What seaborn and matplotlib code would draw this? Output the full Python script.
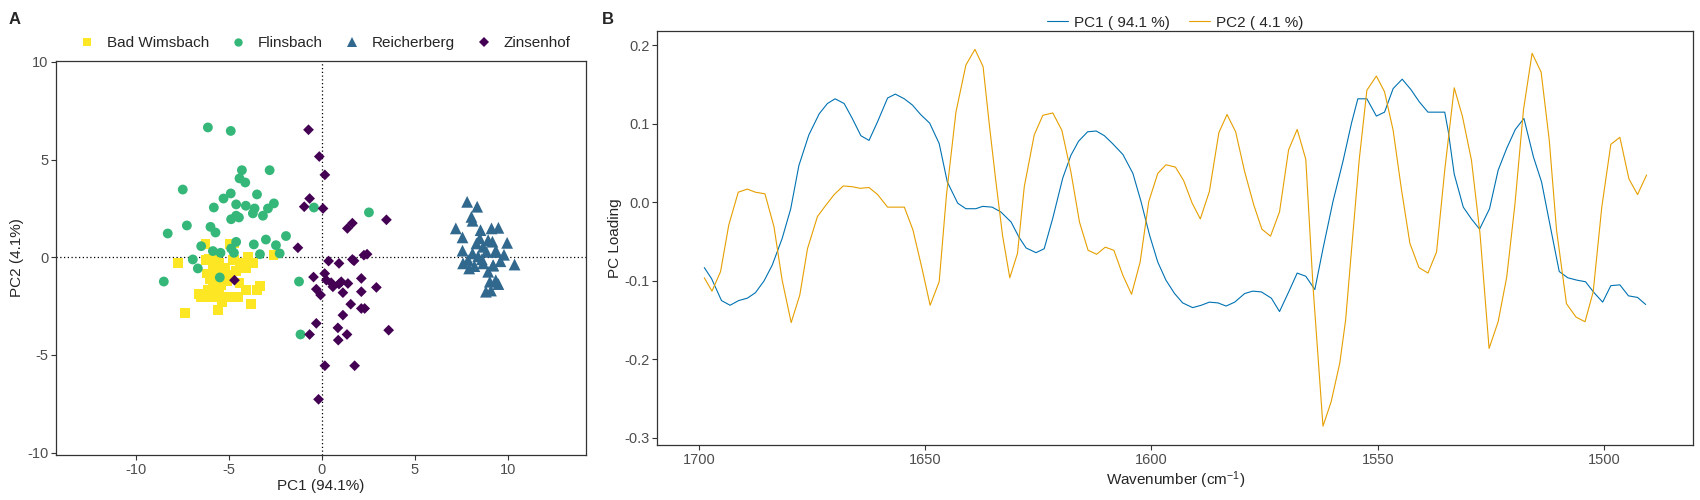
import numpy as np
import pandas as pd
import seaborn as sns
import matplotlib.pyplot as plt

sns.set_theme(style="white")
plt.rcParams['font.family'] = ['Liberation Sans', 'DejaVu Sans']
plt.rcParams['axes.unicode_minus'] = False
plt.rcParams['mathtext.default'] = 'regular'

# ---- panel A: PCA scores per site ----
bad_pc1 = [-6.26, -4.97, -4.70, -7.75, -6.05, -5.69, -5.51, -5.87, -4.79, -4.43, -3.98, -3.71, -4.07,
           -2.60, -6.19, -4.97, -5.33, -4.43, -5.87, -5.42, -6.14, -6.59, -6.50, -5.87, -5.42, -4.97,
           -4.52, -4.07, -3.48, -3.32, -5.37, -5.96, -3.80, -5.60, -7.38, -5.69, -5.51, -6.22, -4.70,
           -4.25, -5.20, -5.10, -6.00, -5.65, -4.60]
bad_pc2 = [0.68, 0.68, 0.71, -0.31, -0.06, -0.11, -0.31, -0.48, -0.14, -0.31, 0.03, -0.28, -0.57,
           0.11, -0.83, -0.91, -1.00, -1.30, -1.34, -1.42, -1.68, -1.88, -2.02, -1.85, -2.02, -2.05,
           -2.02, -1.68, -1.68, -1.47, -2.28, -2.05, -2.41, -2.70, -2.84, -1.51, -1.68, -0.14, -0.14,
           -0.31, -0.55, -1.20, -1.10, -0.80, -0.70]

flins_pc1 = [-6.13, -4.90, -4.30, -2.81, -4.43, -4.12, -7.48, -3.49, -4.90, -5.29, -5.81, -4.61, -4.09,
             -3.62, -2.58, -2.90, -3.71, -3.17, -4.61, -4.88, -4.46, -7.26, -5.99, -5.72, -8.29, -1.93,
             -3.01, -4.61, -6.49, -3.66, -2.47, -4.88, -5.86, -5.45, -4.73, -3.33, -2.27, -6.94, -6.67,
             -5.49, -8.50, -1.23, -0.43, 2.53, -1.15]
flins_pc2 = [6.65, 6.47, 4.46, 4.46, 4.04, 3.83, 3.47, 3.22, 3.27, 3.01, 2.55, 2.71, 2.64,
             2.50, 2.76, 2.50, 2.25, 2.13, 2.13, 1.95, 2.04, 1.63, 1.56, 1.27, 1.22, 1.09,
             0.91, 0.79, 0.57, 0.66, 0.62, 0.45, 0.32, 0.23, 0.23, 0.16, 0.20, -0.11, -0.57,
             -1.03, -1.24, -1.24, 2.55, 2.30, -3.95]

reich_pc1 = [7.81, 8.35, 8.04, 8.10, 7.20, 9.12, 8.53, 7.56, 8.49, 8.31, 8.94, 9.17, 7.56, 8.67,
             8.85, 9.39, 8.10, 7.86, 7.59, 8.67, 9.21, 7.92, 8.94, 9.03, 9.35, 8.82, 10.36, 9.96,
             9.49, 9.20, 9.49, 9.09, 9.79, 9.32, 8.40, 8.60, 8.20, 9.60]
reich_pc2 = [2.84, 2.59, 2.07, 1.87, 1.48, 1.48, 1.39, 1.02, 0.97, 0.71, 0.88, 0.80, 0.34, 0.54,
             0.28, 0.28, 0.20, -0.14, -0.31, -0.31, -0.40, -0.57, -0.74, -1.25, -1.17, -1.76, -0.37, 0.74,
             1.51, -0.43, -1.37, -1.70, 0.13, 0.29, 0.05, -0.10, -0.45, -0.20]

zins_pc1 = [-0.72, -0.14, 0.16, -0.66, -0.95, 0.06, 1.64, 1.37, 3.47, -1.29, 0.36, 0.92, 1.64, 1.73,
            2.26, 2.43, -0.45, 0.15, 0.24, 0.50, 0.59, 0.92, 1.04, 1.40, 2.12, 2.93, -0.30, -0.07,
            1.13, 2.12, 1.55, 1.13, 2.12, 2.30, -0.30, 0.86, 1.35, -0.66, 0.88, 3.59, 0.16, 1.76,
            -0.18, -4.70]
zins_pc2 = [6.53, 5.16, 4.22, 3.01, 2.59, 2.50, 1.75, 1.48, 1.92, 0.49, -0.19, -0.31, -0.11, -0.18,
            0.11, 0.16, -1.01, -0.83, -1.17, -1.30, -1.51, -1.37, -1.25, -1.34, -1.08, -1.54, -1.63, -1.93,
            -1.81, -1.76, -2.40, -2.96, -2.62, -2.62, -3.38, -3.61, -3.95, -3.95, -4.24, -3.73, -5.55, -5.55,
            -7.27, -1.17]

sites = ["Bad Wimsbach", "Flinsbach", "Reicherberg", "Zinsenhof"]
site_colors = ["#FDE725", "#35B779", "#31688E", "#440154"]
site_markers = ["s", "o", "^", "D"]
site_sizes = [50, 50, 72, 30]

# ---- panel B: PC loadings ----
pc1_wn = [1698.8, 1697.2, 1695.0, 1693.1, 1691.2, 1689.3, 1687.5, 1685.6, 1683.8, 1681.6, 1679.7,
          1677.9, 1675.7, 1673.4, 1671.6, 1669.9, 1667.9, 1666.1, 1664.2, 1662.4, 1660.5, 1658.3,
          1656.6, 1654.6, 1652.8, 1651.0, 1649.0, 1646.9, 1645.1, 1642.8, 1641.0, 1638.8, 1637.3,
          1635.2, 1633.3, 1631.0, 1629.3, 1627.7, 1625.5, 1623.7, 1621.8, 1619.6, 1617.8, 1616.1,
          1614.1, 1612.2, 1610.4, 1608.6, 1606.3, 1604.1, 1602.3, 1600.4, 1598.6, 1596.8, 1594.9,
          1593.1, 1590.9, 1589.0, 1587.2, 1585.3, 1583.5, 1581.6, 1579.4, 1577.6, 1575.7, 1573.5,
          1571.7, 1569.6, 1567.8, 1565.9, 1563.9, 1562.1, 1559.9, 1557.7, 1555.8, 1554.4, 1552.4,
          1550.3, 1548.5, 1546.6, 1544.6, 1542.7, 1540.8, 1538.9, 1535.2, 1534.4, 1533.1, 1531.1,
          1529.3, 1527.5, 1525.3, 1523.4, 1521.5, 1519.6, 1517.7, 1515.6, 1513.8, 1512.0, 1509.9,
          1508.0, 1506.0, 1504.1, 1502.2, 1500.3, 1498.5, 1496.5, 1494.6, 1492.6, 1490.8]
pc1_load = [-0.083, -0.097, -0.125, -0.131, -0.125, -0.122, -0.115, -0.100, -0.080, -0.046, -0.008,
            0.047, 0.086, 0.113, 0.126, 0.132, 0.126, 0.107, 0.085, 0.079, 0.103, 0.133,
            0.138, 0.132, 0.124, 0.112, 0.101, 0.075, 0.026, -0.001, -0.008, -0.008, -0.005,
            -0.006, -0.012, -0.025, -0.044, -0.058, -0.064, -0.059, -0.020, 0.031, 0.060, 0.078,
            0.090, 0.091, 0.085, 0.075, 0.061, 0.037, 0.001, -0.042, -0.076, -0.099, -0.116,
            -0.128, -0.134, -0.131, -0.127, -0.128, -0.132, -0.127, -0.116, -0.113, -0.114, -0.122,
            -0.139, -0.113, -0.090, -0.094, -0.111, -0.059, 0.001, 0.052, 0.101, 0.132, 0.132,
            0.110, 0.115, 0.145, 0.157, 0.144, 0.128, 0.115, 0.115, 0.090, 0.036, -0.006,
            -0.021, -0.034, -0.008, 0.041, 0.069, 0.093, 0.107, 0.058, 0.026, -0.027, -0.088,
            -0.096, -0.099, -0.101, -0.115, -0.127, -0.106, -0.105, -0.119, -0.121, -0.130]

pc2_wn = [1698.8, 1697.1, 1695.2, 1693.4, 1691.3, 1689.3, 1687.5, 1685.4, 1683.4, 1681.6, 1679.6,
          1677.7, 1676.0, 1673.8, 1672.0, 1670.1, 1668.1, 1666.1, 1664.4, 1662.4, 1660.5, 1658.3,
          1654.6, 1652.7, 1650.7, 1648.9, 1646.9, 1645.3, 1643.2, 1641.0, 1639.0, 1637.2, 1635.8,
          1634.4, 1632.9, 1631.3, 1629.6, 1628.1, 1625.9, 1624.0, 1621.8, 1619.8, 1617.8, 1615.9,
          1614.0, 1612.1, 1610.2, 1608.3, 1606.3, 1604.4, 1602.5, 1600.6, 1598.6, 1596.8, 1594.7,
          1592.9, 1591.0, 1589.2, 1587.2, 1585.1, 1583.3, 1581.4, 1579.4, 1577.4, 1575.6, 1573.7,
          1571.7, 1569.7, 1567.8, 1565.9, 1564.3, 1562.1, 1560.3, 1558.4, 1557.1, 1555.8, 1554.1,
          1552.4, 1550.3, 1548.5, 1546.6, 1544.8, 1542.9, 1540.9, 1538.9, 1537.0, 1535.2, 1533.1,
          1531.3, 1529.3, 1527.4, 1525.4, 1523.4, 1521.5, 1519.7, 1517.8, 1515.9, 1513.9, 1512.1,
          1510.5, 1508.3, 1506.2, 1504.2, 1502.4, 1500.5, 1498.5, 1496.5, 1494.5, 1492.6, 1490.6]
pc2_load = [-0.096, -0.113, -0.088, -0.029, 0.013, 0.017, 0.013, 0.011, -0.031, -0.099, -0.153,
            -0.118, -0.059, -0.018, -0.004, 0.010, 0.021, 0.020, 0.018, 0.019, 0.010, -0.006,
            -0.006, -0.035, -0.084, -0.131, -0.101, 0.009, 0.115, 0.175, 0.195, 0.173, 0.098,
            0.028, -0.042, -0.096, -0.065, 0.020, 0.086, 0.111, 0.114, 0.092, 0.039, -0.025,
            -0.061, -0.066, -0.057, -0.061, -0.093, -0.117, -0.076, 0.001, 0.037, 0.048, 0.045,
            0.028, -0.001, -0.021, 0.014, 0.089, 0.112, 0.090, 0.039, -0.003, -0.034, -0.043,
            -0.012, 0.067, 0.093, 0.055, -0.107, -0.285, -0.254, -0.205, -0.150, -0.061, 0.054,
            0.143, 0.161, 0.141, 0.092, 0.018, -0.052, -0.083, -0.090, -0.063, 0.041, 0.146,
            0.110, 0.054, -0.040, -0.186, -0.152, -0.095, -0.003, 0.118, 0.190, 0.166, 0.079,
            -0.035, -0.129, -0.146, -0.152, -0.114, -0.006, 0.074, 0.083, 0.030, 0.010, 0.035]

pc_names = ["PC1 ( 94.1 %)", "PC2 ( 4.1 %)"]
pc_colors = ["#0072B2", "#E69F00"]

scores = pd.concat([
    pd.DataFrame({"PC1": bad_pc1, "PC2": bad_pc2, "site": sites[0]}),
    pd.DataFrame({"PC1": flins_pc1, "PC2": flins_pc2, "site": sites[1]}),
    pd.DataFrame({"PC1": reich_pc1, "PC2": reich_pc2, "site": sites[2]}),
    pd.DataFrame({"PC1": zins_pc1, "PC2": zins_pc2, "site": sites[3]}),
], ignore_index=True)

loadings = pd.concat([
    pd.DataFrame({"wn": pc1_wn, "loading": pc1_load, "pc": pc_names[0]}),
    pd.DataFrame({"wn": pc2_wn, "loading": pc2_load, "pc": pc_names[1]}),
], ignore_index=True)

edge = "#333333"
tick_col = "#4D4D4D"

fig = plt.figure(figsize=(17, 5), dpi=100)
ax1 = fig.add_axes([0.0329, 0.09, 0.3118, 0.788])
ax2 = fig.add_axes([0.3866, 0.11, 0.6094, 0.8274])

# panel A
ax1.axhline(0, color="black", ls=(0, (1, 2)), lw=0.9, zorder=0)
ax1.axvline(0, color="black", ls=(0, (1, 2)), lw=0.9, zorder=0)
sns.scatterplot(data=scores, x="PC1", y="PC2", hue="site", style="site", size="site",
                hue_order=sites, style_order=sites, size_order=sites,
                palette=dict(zip(sites, site_colors)),
                markers=dict(zip(sites, site_markers)),
                sizes=dict(zip(sites, site_sizes)),
                linewidth=0, ax=ax1)
ax1.set_xlim(-14.3, 14.2)
ax1.set_ylim(-10.12, 10.05)
ax1.set_xticks([-10, -5, 0, 5, 10])
ax1.set_yticks([-10, -5, 0, 5, 10])
ax1.set_xlabel("PC1 (94.1%)", fontsize=11, labelpad=2)
ax1.set_ylabel("PC2 (4.1%)", fontsize=11, labelpad=2)
sns.move_legend(ax1, "lower center", bbox_to_anchor=(0.5, 1.0), ncol=4, frameon=False,
                title=None, fontsize=11, handletextpad=0.3, columnspacing=0.9,
                borderaxespad=0.3, markerscale=0.85)

# panel B
sns.lineplot(data=loadings, x="wn", y="loading", hue="pc", hue_order=pc_names,
             palette=dict(zip(pc_names, pc_colors)), estimator=None, sort=True,
             linewidth=0.8, ax=ax2)
ax2.set_xlim(1709.2, 1480.3)
ax2.set_ylim(-0.309, 0.218)
ax2.set_xticks([1700, 1650, 1600, 1550, 1500])
ax2.set_yticks([-0.3, -0.2, -0.1, 0.0, 0.1, 0.2])
ax2.set_yticklabels([f"{v:.1f}" for v in [-0.3, -0.2, -0.1, 0.0, 0.1, 0.2]])
ax2.set_xlabel("Wavenumber (cm$^{-1}$)", fontsize=11, labelpad=2)
ax2.set_ylabel("PC Loading", fontsize=11, labelpad=2)
sns.move_legend(ax2, "lower center", bbox_to_anchor=(0.5, 1.0), ncol=2, frameon=False,
                title=None, fontsize=11, handlelength=1.4, handletextpad=0.4,
                columnspacing=1.2, borderaxespad=0.0, borderpad=0.1)

for ax in (ax1, ax2):
    for sp in ax.spines.values():
        sp.set_visible(True)
        sp.set_color(edge)
        sp.set_linewidth(0.9)
    ax.tick_params(axis="both", which="both", length=3.5, width=0.8, color=edge,
                   labelcolor=tick_col, labelsize=10.5, pad=2, bottom=True, left=True)
    ax.grid(False)

fig.text(0.005, 0.975, "A", fontsize=12, fontweight="bold", va="top", ha="left")
fig.text(0.354, 0.975, "B", fontsize=12, fontweight="bold", va="top", ha="left")

fig.savefig("out.png", dpi=100)
